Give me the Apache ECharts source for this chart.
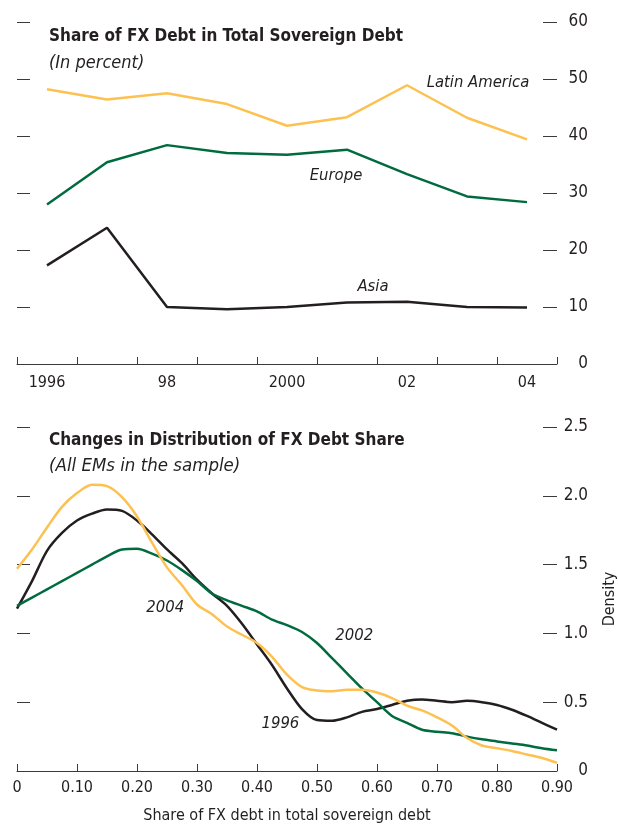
<!DOCTYPE html>
<html>
<head>
<meta charset="utf-8">
<script src="https://cdn.jsdelivr.net/npm/echarts@6/dist/echarts.min.js"></script>
<style>
  html, body { margin: 0; padding: 0; background: #fff; }
  #chart { width: 618px; height: 825px; }
</style>
</head>
<body>
<div id="chart"></div>
<script>
// top panel: share of FX debt, percent
const years = ["1996", "1997", "1998", "1999", "2000", "2001", "2002", "2003", "2004"];
const yearTickLabels = { "1996": "1996", "1998": "98", "2000": "2000", "2002": "02", "2004": "04" };
const latinAmerica = [48.2, 46.4, 47.5, 45.6, 41.8, 43.3, 48.9, 43.2, 39.4];
const europe = [28.0, 35.4, 38.4, 37.0, 36.7, 37.6, 33.3, 29.4, 28.4];
const asia = [17.3, 23.9, 10.0, 9.6, 10.0, 10.8, 10.9, 10.0, 9.9];

// bottom panel: kernel density of FX debt share
const shareGrid = [
  0, 0.025, 0.05, 0.075, 0.1, 0.125, 0.15, 0.175, 0.2, 0.225, 0.25, 0.275, 0.3,
  0.325, 0.35, 0.375, 0.4, 0.425, 0.45, 0.475, 0.5, 0.525, 0.55, 0.575, 0.6,
  0.625, 0.65, 0.675, 0.7, 0.725, 0.75, 0.775, 0.8, 0.825, 0.85, 0.875, 0.9,
];
const density1996 = [
  1.18, 1.38, 1.60, 1.73, 1.82, 1.87, 1.90, 1.89, 1.82, 1.72, 1.61, 1.51, 1.39,
  1.29, 1.20, 1.07, 0.92, 0.77, 0.60, 0.45, 0.37, 0.365, 0.39, 0.43, 0.45,
  0.48, 0.51, 0.52, 0.51, 0.50, 0.51, 0.50, 0.48, 0.445, 0.40, 0.35, 0.30,
];
const density2002 = [
  1.20, 1.26, 1.32, 1.38, 1.44, 1.50, 1.56, 1.61, 1.615, 1.58, 1.53, 1.46, 1.38,
  1.29, 1.24, 1.20, 1.16, 1.10, 1.06, 1.01, 0.93, 0.82, 0.71, 0.60, 0.50,
  0.40, 0.35, 0.30, 0.285, 0.275, 0.25, 0.23, 0.215, 0.20, 0.185, 0.165, 0.15,
];
const density2004 = [
  1.47, 1.61, 1.77, 1.92, 2.02, 2.08, 2.07, 1.99, 1.85, 1.66, 1.48, 1.35, 1.21,
  1.14, 1.05, 0.99, 0.93, 0.83, 0.70, 0.61, 0.585, 0.58, 0.59, 0.59, 0.57,
  0.53, 0.475, 0.44, 0.39, 0.33, 0.24, 0.185, 0.165, 0.145, 0.12, 0.095, 0.06,
];

const FONT = "'Liberation Sans Narrow', 'DejaVu Sans Condensed', 'Liberation Sans', sans-serif";
const INK = "#231f20";
const AXIS = "#3a3a3a";
const COLORS = { yellow: "#fdc152", green: "#006b3f", black: "#231f20" };

const pairs = (xs, ys) => xs.map((x, i) => [x, ys[i]]);

function seriesLabel(text, coord, offset) {
  return {
    symbol: "circle",
    symbolSize: 0,
    silent: true,
    data: [{
      coord,
      label: {
        show: true,
        position: "inside",
        formatter: text,
        offset,
        color: INK,
        fontFamily: FONT,
        fontStyle: "italic",
        fontSize: 16.5,
      },
    }],
  };
}

// right axes carry the labels, left axes only the short dashes (pushed inward by offset)
// onZero off, or the bottom value x-axis would pull both y-axes to x = 0
function rightAxis(gridIndex, max, interval, extra) {
  return Object.assign({
    type: "value", gridIndex, position: "right", min: 0, max, interval,
    axisLine: { show: false, onZero: false },
    splitLine: { show: false },
    axisTick: { show: true, inside: true, length: 14, lineStyle: { color: AXIS, width: 1 } },
    axisLabel: {
      margin: 31, align: "right", color: INK, fontFamily: FONT, fontSize: 17,
      formatter: (v) => (v === 0 ? "0" : interval < 1 ? v.toFixed(1) : String(v)),
    },
  }, extra);
}
function leftAxis(gridIndex, max, interval) {
  return {
    type: "value", gridIndex, position: "left", offset: -13, min: 0, max, interval,
    axisLine: { show: false, onZero: false },
    splitLine: { show: false },
    axisTick: { show: true, inside: false, length: 13, lineStyle: { color: AXIS, width: 1 } },
    axisLabel: { show: false },
  };
}

const chart = echarts.init(document.getElementById("chart"), null, { renderer: "canvas" });

const titleStyle = { fontFamily: FONT, fontWeight: "bold", fontSize: 17, color: INK };
const subStyle = { fontFamily: FONT, fontStyle: "italic", fontWeight: "normal", fontSize: 18, color: INK };

chart.setOption({
  animation: false,
  backgroundColor: "#fff",
  textStyle: { fontFamily: FONT },
  title: [
    { text: "Share of FX Debt in Total Sovereign Debt", left: 49, top: 28, padding: 0, textStyle: titleStyle },
    { text: "(In percent)", left: 49, top: 54, padding: 0, textStyle: subStyle },
    { text: "Changes in Distribution of FX Debt Share", left: 49, top: 432, padding: 0, textStyle: titleStyle },
    { text: "(All EMs in the sample)", left: 49, top: 457, padding: 0, textStyle: { ...subStyle, fontSize: 18.5 } },
  ],
  grid: [
    { left: 17, right: 61, top: 22, bottom: 461, outerBoundsMode: "none" },
    { left: 17, right: 61, top: 427, bottom: 54, outerBoundsMode: "none" },
  ],
  xAxis: [
    {
      type: "category",
      gridIndex: 0,
      data: years,
      boundaryGap: true,
      axisLine: { show: true, onZero: false, lineStyle: { color: AXIS, width: 1 } },
      axisTick: { show: true, inside: true, length: 7, interval: 0, lineStyle: { color: AXIS } },
      axisLabel: {
        interval: 0,
        margin: 11,
        color: INK,
        fontFamily: FONT,
        fontSize: 16,
        formatter: (v) => yearTickLabels[v] || "",
      },
      splitLine: { show: false },
    },
    {
      type: "value",
      gridIndex: 1,
      min: 0,
      max: 0.9,
      interval: 0.1,
      name: "Share of FX debt in total sovereign debt",
      nameLocation: "middle",
      nameGap: 37,
      nameTextStyle: { color: INK, fontFamily: FONT, fontSize: 16 },
      axisLine: { show: true, onZero: false, lineStyle: { color: AXIS, width: 1 } },
      axisTick: { show: true, inside: true, length: 7, lineStyle: { color: AXIS } },
      axisLabel: {
        margin: 9,
        color: INK,
        fontFamily: FONT,
        fontSize: 16,
        formatter: (v) => (v === 0 ? "0" : v.toFixed(2)),
      },
      splitLine: { show: false },
    },
  ],
  yAxis: [
    rightAxis(0, 60, 10),
    leftAxis(0, 60, 10),
    rightAxis(1, 2.5, 0.5, {
      name: "Density",
      nameLocation: "middle",
      nameRotate: 90,
      nameGap: 45,
      nameTextStyle: { color: INK, fontFamily: FONT, fontSize: 16 },
    }),
    leftAxis(1, 2.5, 0.5),
  ],
  series: [
    {
      name: "Latin America", type: "line", xAxisIndex: 0, yAxisIndex: 0,
      data: latinAmerica, showSymbol: false,
      lineStyle: { color: COLORS.yellow, width: 2.5 },
      markPoint: seriesLabel("Latin America", ["2003", 50], [11, 4]),
    },
    {
      name: "Europe", type: "line", xAxisIndex: 0, yAxisIndex: 0,
      data: europe, showSymbol: false,
      lineStyle: { color: COLORS.green, width: 2.5 },
      markPoint: seriesLabel("Europe", ["2001", 33], [-11, 0]),
    },
    {
      name: "Asia", type: "line", xAxisIndex: 0, yAxisIndex: 0,
      data: asia, showSymbol: false,
      lineStyle: { color: COLORS.black, width: 2.5 },
      markPoint: seriesLabel("Asia", ["2001", 13.5], [26, 0]),
    },
    {
      name: "1996", type: "line", xAxisIndex: 1, yAxisIndex: 2,
      data: pairs(shareGrid, density1996), showSymbol: false, smooth: 0.3,
      lineStyle: { color: COLORS.black, width: 2.5 },
      markPoint: seriesLabel("1996", [0.439, 0.34], [0, 0]),
    },
    {
      name: "2002", type: "line", xAxisIndex: 1, yAxisIndex: 2,
      data: pairs(shareGrid, density2002), showSymbol: false, smooth: 0.3,
      lineStyle: { color: COLORS.green, width: 2.5 },
      markPoint: seriesLabel("2002", [0.562, 0.98], [0, 0]),
    },
    {
      name: "2004", type: "line", xAxisIndex: 1, yAxisIndex: 2,
      data: pairs(shareGrid, density2004), showSymbol: false, smooth: 0.3,
      lineStyle: { color: COLORS.yellow, width: 2.5 },
      markPoint: seriesLabel("2004", [0.247, 1.19], [0, 0]),
    },
  ],
});
</script>
</body>
</html>
